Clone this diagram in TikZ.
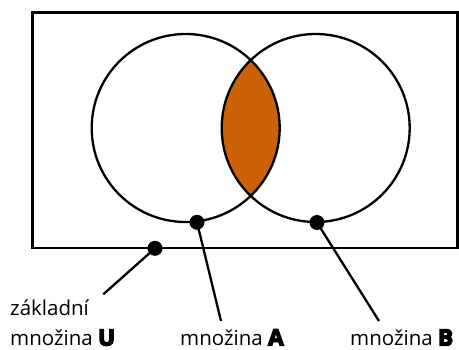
\documentclass[tikz,border=0pt]{standalone}
\usepackage{fontspec}
\setmainfont{Open Sans}
\newfontfamily\heavy[BoldFeatures={FakeBold=6}]{Open Sans}
\newcommand{\setname}[1]{{\heavy\bfseries\fontsize{22.5}{24}\selectfont #1}}
\definecolor{lensfill}{RGB}{204,98,8}
\begin{document}
\begin{tikzpicture}[x=1pt,y=-1pt,
  outline/.style={draw=black,line width=2.3pt},
  dot/.style={circle,fill=black,inner sep=0pt,minimum size=15pt},
  leader/.style={draw=black,line width=2.3pt},
  label/.style={anchor=base west,inner sep=0pt,font=\fontsize{20.5}{24}\selectfont}]
  \useasboundingbox (0,0) rectangle (459,349);
  % universe
  \draw[outline] (32.5,12.5) rectangle (457.5,248.3);
  % intersection of A and B
  \begin{scope}
    \clip (185.7,128) circle (94);
    \fill[lensfill] (315.7,128) circle (94);
  \end{scope}
  \draw[outline] (185.7,128) circle (94);
  \draw[outline] (315.7,128) circle (94);
  % markers
  \node[dot] (dU) at (155,248.3) {};
  \node[dot] (dA) at (197,222.3) {};
  \node[dot] (dB) at (317,222.5) {};
  \coordinate (eU) at (103.3,294.3);
  \coordinate (eA) at (221,321);
  \coordinate (eB) at (379,321);
  \draw[leader] (dU.center) -- (eU);
  \draw[leader] (dA.center) -- (eA);
  \draw[leader] (dB.center) -- (eB);
  % labels
  \node[label] (tU1) at (10,315) {základní};
  \node[label] (tU2) at (10,345.5) {množina \setname{U}};
  \node[label] (tA) at (180,345.5) {množina \setname{A}};
  \node[label] (tB) at (350,345.5) {množina \setname{B}};
\end{tikzpicture}
\end{document}
